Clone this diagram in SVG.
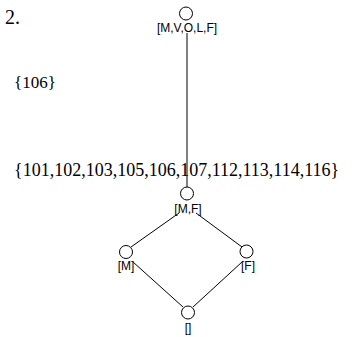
<svg xmlns="http://www.w3.org/2000/svg" width="356" height="337" viewBox="0 0 356 337">
<style>
.n{fill:#fff;stroke:#000;stroke-width:1}
.l{font-family:'Liberation Sans',Arial,sans-serif;font-size:12px;text-anchor:middle;fill:#000}
.t{font-family:'Liberation Serif','Times New Roman','DejaVu Serif',serif;fill:#000}
.e{stroke:#000;stroke-width:1;fill:none}
</style>
<rect width="356" height="337" fill="#fff"/>
<text class="t" x="5" y="24" font-size="20" font-family="Liberation Serif, serif">2.</text>
<text class="t" x="14" y="88" font-size="17" font-family="Liberation Serif, serif">{106}</text>
<text class="t" x="14" y="176" font-size="18" font-family="Liberation Serif, serif">{101,102,103,105,106,107,112,113,114,116}</text>
<g id="connectors">
<line class="e" x1="187" y1="33" x2="187" y2="187"/>
<line class="e" x1="179" y1="213" x2="131" y2="247"/>
<line class="e" x1="196" y1="213" x2="242" y2="247"/>
<line class="e" x1="133" y1="262" x2="183" y2="307"/>
<line class="e" x1="242" y1="262" x2="193" y2="307"/>
</g>
<g id="top"><circle class="n" cx="186" cy="13.5" r="6.5"/><text class="l" x="187" y="32">[M,V,O,L,F]</text></g>
<g id="mf"><circle class="n" cx="187" cy="193.5" r="6.5"/><text class="l" x="188" y="213">[M,F]</text></g>
<g id="m"><circle class="n" cx="126" cy="252" r="6.5"/><text class="l" x="126" y="270">[M]</text></g>
<g id="f"><circle class="n" cx="246.5" cy="251.5" r="6.5"/><text class="l" x="248" y="270">[F]</text></g>
<g id="bottom"><circle class="n" cx="188" cy="312.5" r="6.5"/><text class="l" x="188" y="332">[]</text></g>
</svg>
